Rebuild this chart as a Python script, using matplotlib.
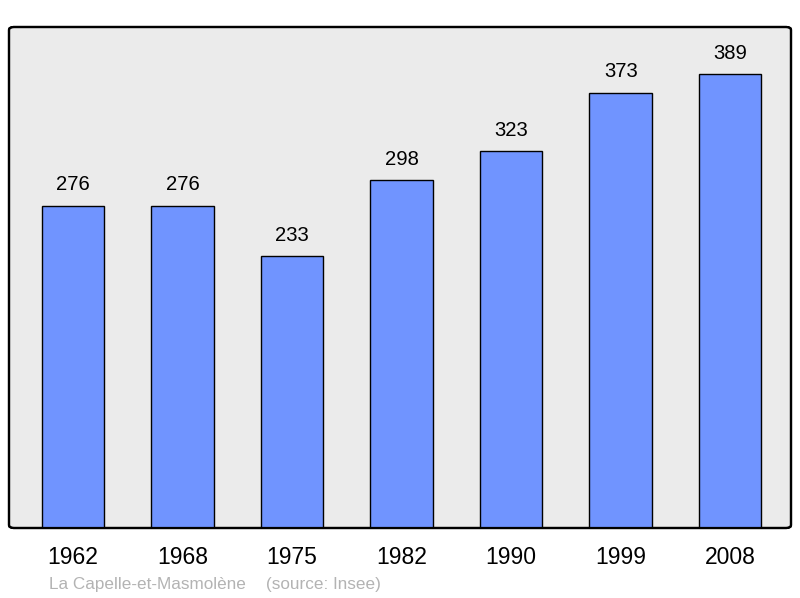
import matplotlib
matplotlib.use("Agg")
import matplotlib.pyplot as plt
from matplotlib.patches import FancyBboxPatch
from matplotlib import font_manager as fm
import os

years = ["1962", "1968", "1975", "1982", "1990", "1999", "2008"]
population = [276, 276, 233, 298, 323, 373, 389]
commune = "La Capelle-et-Masmolène"
source = "(source: Insee)"

# pick regular (non-narrow) Liberation Sans
path = None
for f in fm.findSystemFonts():
    if os.path.basename(f) == 'LiberationSans-Regular.ttf':
        path = f
        break
if path:
    fm.fontManager.addfont(path)
    fp = fm.FontProperties(fname=path)
else:
    fp = fm.FontProperties(family='Liberation Sans')

def F(size):
    p = fp.copy()
    p.set_size(size)
    return p

fig = plt.figure(figsize=(8.0, 5.98), dpi=100)
W, H = 800, 598
ax = fig.add_axes([9/W, 1 - 528/H, (791-9)/W, (528-27)/H])
ax.set_facecolor('none')

x = list(range(len(years)))
ax.bar(x, population, width=0.57, color='#7094ff', edgecolor='black', linewidth=1.0, zorder=3)
for xi, v in zip(x, population):
    ax.text(xi, v + 10, str(v), ha='center', va='bottom', fontproperties=F(14.6), color='black')

ax.set_xlim(-0.585, 6.555)
ax.set_ylim(0, 429.5)
ax.set_xticks(x)
ax.set_xticklabels(years)
for lab in ax.get_xticklabels():
    lab.set_fontproperties(F(16.5))
ax.tick_params(axis='x', length=0, pad=13)
ax.set_yticks([])
for s in ax.spines.values():
    s.set_visible(False)

frame = FancyBboxPatch((0, 0), 1, 1, boxstyle="round,pad=0,rounding_size=0.006",
                       transform=ax.transAxes, facecolor='#ebebeb', edgecolor='black',
                       linewidth=1.6, zorder=0, clip_on=False)
ax.add_patch(frame)
frame2 = FancyBboxPatch((0, 0), 1, 1, boxstyle="round,pad=0,rounding_size=0.006",
                        transform=ax.transAxes, facecolor='none', edgecolor='black',
                        linewidth=1.6, zorder=5, clip_on=False)
ax.add_patch(frame2)

fig.text(49/W, 1 - 585/H, commune, fontproperties=F(12.3), color='#b3b3b3', va='center', ha='left')
fig.text(266/W, 1 - 585/H, source, fontproperties=F(12.3), color='#b3b3b3', va='center', ha='left')

fig.savefig("out.png", dpi=100)
